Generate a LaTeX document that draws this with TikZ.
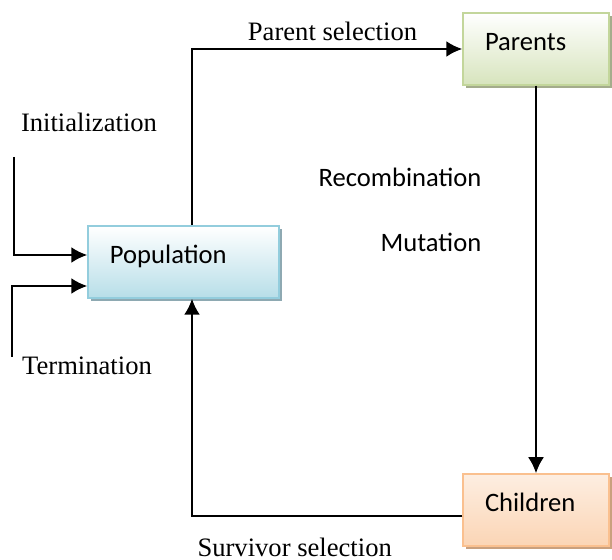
\documentclass[tikz,border=0pt]{standalone}
\usepackage{fontspec}
\setmainfont{Liberation Serif}
\setsansfont{Carlito}
\usepackage{tikz}
\usetikzlibrary{arrows.meta}
\usetikzlibrary{shadows}
\definecolor{PopLine}{HTML}{93CDDD}
\definecolor{PopFill}{HTML}{B7DEE8}
\definecolor{PopShade}{HTML}{8EA9B2}
\definecolor{ParLine}{HTML}{C3D69B}
\definecolor{ParFill}{HTML}{D7E4BD}
\definecolor{ParShade}{HTML}{A4AC8C}
\definecolor{ChiLine}{HTML}{FAC08F}
\definecolor{ChiFill}{HTML}{FBD5B5}
\definecolor{ChiShade}{HTML}{C9A07E}

\tikzset{
  box/.style={rectangle,draw,line width=0.75pt,minimum width=73pt,minimum height=36pt,
    text width=51pt,align=left,inner xsep=11pt,text height=9pt,text depth=7.5pt,
    font=\sffamily\fontsize{13.3}{16}\selectfont},
  flow/.style={line width=1.1pt,-{Latex[length=8pt,width=8pt]}},
  caption/.style={font=\fontsize{13.3}{16}\selectfont},
  sanscaption/.style={font=\sffamily\fontsize{13.3}{16}\selectfont}
}

\begin{document}
\begin{tikzpicture}[x=0.5pt,y=-0.5pt]
  \useasboundingbox (0,0) rectangle (612,560);
  % the three boxes
  \node[box,draw=PopLine,top color=white,bottom color=PopFill,minimum width=95.5pt,text width=73.5pt,
    drop shadow={fill=PopShade,opacity=1,shadow xshift=1.5pt,shadow yshift=-1.5pt}] (pop) at (183.5,262) {Population};
  \node[box,draw=ParLine,top color=white,bottom color=ParFill,
    drop shadow={fill=ParShade,opacity=1,shadow xshift=1.5pt,shadow yshift=-1.5pt}] (par) at (536,49) {Parents};
  \node[box,draw=ChiLine,top color=ChiFill!40,bottom color=ChiFill,
    drop shadow={fill=ChiShade,opacity=1,shadow xshift=1.5pt,shadow yshift=-1.5pt}] (chi) at (536,510) {Children};

  \coordinate (init) at (14,157);
  \coordinate (term) at (12,357);

  \draw[flow] ([xshift=4.25pt]pop.north) |- (par.west) node[caption,above,pos=0.76] {Parent selection};
  \draw[flow] (par.south) -- (chi.north);
  \draw[flow] ([yshift=-3pt]chi.west) -| ([xshift=4.25pt]pop.south) node[caption,below=7pt,pos=0.31] {Survivor selection};
  \draw[flow] (init) |- ([yshift=3.5pt]pop.west);
  \draw[flow] (term) |- ([yshift=-12pt]pop.west);

  \node[caption] (initlabel) at (89,122) {Initialization};
  \node[caption] (termlabel) at (87,366) {Termination};
  \node[sanscaption] (recomb) at (400,177) {Recombination};
  \node[sanscaption] (mutat) at (431,242) {Mutation};
\end{tikzpicture}
\end{document}
